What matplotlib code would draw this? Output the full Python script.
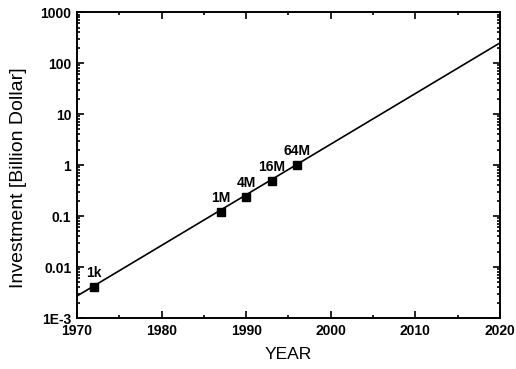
import matplotlib
matplotlib.use("Agg")
import matplotlib.pyplot as plt
from matplotlib.ticker import MultipleLocator, LogLocator, FixedLocator, FixedFormatter, NullFormatter

plt.rcParams['font.family'] = ['Liberation Sans', 'DejaVu Sans']

years = [1972, 1987, 1990, 1993, 1996]
investment = [0.0041, 0.12, 0.24, 0.49, 1.0]
labels = ["1k", "1M", "4M", "16M", "64M"]
fit_years = [1970, 2020]
fit_values = [0.0027, 250]

ytick_vals = [1e-3, 1e-2, 1e-1, 1, 10, 100, 1000]
ytick_labels = ["1E-3", "0.01", "0.1", "1", "10", "100", "1000"]

fig = plt.figure(figsize=(5.16, 3.69), dpi=100)
ax = fig.add_axes([0.149, 0.138, 0.820, 0.829])

ax.plot(fit_years, fit_values, color='black', lw=1.2)
ax.plot(years, investment, 's', color='black', ms=5.5)
for x, y, t in zip(years, investment, labels):
    ax.annotate(t, (x, y), xytext=(0, 5), textcoords='offset points',
                ha='center', va='bottom', fontsize=10, fontweight='bold')

ax.set_yscale('log')
ax.set_xlim(1970, 2020)
ax.set_ylim(1e-3, 1000)
ax.xaxis.set_major_locator(MultipleLocator(10))
ax.xaxis.set_minor_locator(MultipleLocator(5))
ax.yaxis.set_major_locator(FixedLocator(ytick_vals))
ax.yaxis.set_major_formatter(FixedFormatter(ytick_labels))
ax.yaxis.set_minor_locator(LogLocator(base=10, subs=range(2, 10), numticks=20))
ax.yaxis.set_minor_formatter(NullFormatter())

ax.tick_params(which='both', direction='in', top=True, right=True, width=1.2)
ax.tick_params(which='major', length=5, labelsize=10, pad=4)
ax.tick_params(which='minor', length=2.5)
for lbl in ax.get_xticklabels() + ax.get_yticklabels():
    lbl.set_fontweight('bold')
for s in ax.spines.values():
    s.set_linewidth(1.4)

ax.set_xlabel("YEAR", fontsize=12.5, labelpad=7)
ax.set_ylabel("Investment [Billion Dollar]", fontsize=14)
ax.yaxis.set_label_coords(-0.118, 0.46)

fig.savefig("out.png", dpi=100)
